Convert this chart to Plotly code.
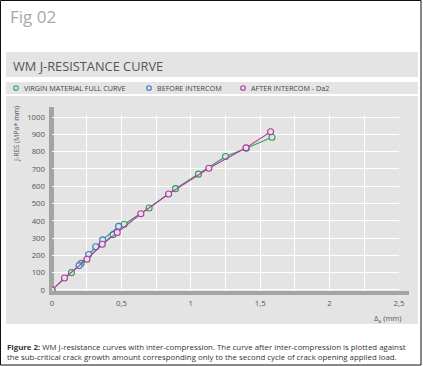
import plotly.graph_objects as go

# ---------------- data ----------------
virgin_x = [0.0, 0.14, 0.21, 0.44, 0.52, 0.70, 0.89, 1.055, 1.25, 1.40, 1.585]
virgin_y = [0, 100, 154, 320, 380, 474, 586, 670, 772, 820, 883]

before_x = [0.195, 0.264, 0.315, 0.365, 0.48]
before_y = [141, 205, 250, 290, 368]

after_x = [0.0, 0.09, 0.252, 0.362, 0.47, 0.64, 0.84, 1.13, 1.398, 1.575]
after_y = [0, 69, 178, 264, 332, 441, 555, 704, 822, 915]

x_ticks = [0, 0.5, 1, 1.5, 2, 2.5]
x_minor = [0.25, 0.75, 1.25, 1.75, 2.25]
y_ticks = [0, 100, 200, 300, 400, 500, 600, 700, 800, 900, 1000]

series_names = ["VIRGIN MATERIAL FULL CURVE", "BEFORE INTERCOM", "AFTER INTERCOM - Da2"]
colors = ["#2e9e5b", "#3a78c8", "#b0399f"]

# ---------------- layout helpers ----------------
W, H = 423, 366
ML, MR, MT, MB = 52, 24, 115, 75
PW, PH = W - ML - MR, H - MT - MB

def px(x):
    return (x - ML) / PW

def py(y):
    return (H - MB - y) / PH

FONT = "Open Sans, Noto Sans, sans-serif"
BAND = "#e4e4e4"
BAR = "#a4a4a4"

fig = go.Figure()
for xs, ys, c in [(virgin_x, virgin_y, colors[0]), (before_x, before_y, colors[1]), (after_x, after_y, colors[2])]:
    fig.add_trace(go.Scatter(
        x=xs, y=ys, mode="lines+markers",
        line=dict(color=c, width=1.1),
        marker=dict(symbol="circle", size=6, color=BAND, line=dict(color=c, width=1.1)),
        showlegend=False, hoverinfo="skip"))

shapes = []
def rect(x0, y0, x1, y1, fill=None):
    shapes.append(dict(type="rect", xref="paper", yref="paper",
                       x0=px(x0), x1=px(x1), y0=py(y1), y1=py(y0),
                       fillcolor=fill, line=dict(width=0), layer="below"))

rect(6, 52, 418, 77, BAND)
rect(6, 82, 418, 94, BAND)
rect(6, 96, 418, 324, BAND)
rect(49, 107, 54, 295, BAR)
rect(49, 291, 409, 295, BAR)
shapes.append(dict(type="rect", xref="paper", yref="paper",
                   x0=px(0.5), x1=px(421), y0=py(365), y1=py(0.5),
                   line=dict(color="#111111", width=1), fillcolor="rgba(0,0,0,0)", layer="above"))

# legend circles
for cx, c in zip([16, 149, 243], colors):
    shapes.append(dict(type="circle", xref="paper", yref="paper",
                       x0=px(cx - 2.3), x1=px(cx + 2.3), y0=py(88 + 2.3), y1=py(88 - 2.3),
                       line=dict(color=c, width=1.1), fillcolor="rgba(0,0,0,0)"))

ann = []
def text(x, y, s, size, color, xanchor="left", yanchor="middle", angle=0):
    ann.append(dict(x=px(x), y=py(y), xref="paper", yref="paper", text=s, showarrow=False,
                    xanchor=xanchor, yanchor=yanchor, textangle=angle, align="left",
                    font=dict(size=size, color=color, family=FONT)))

text(8, 17, "Fig 02", 17, "#a8a8a8")
text(11, 66, "WM J-RESISTANCE CURVE", 12.8, "#555555")
for tx, s in zip([22, 155, 249], series_names):
    text(tx, 88.5, s, 7.2, "#444444")
text(404, 319, "Δ<sub>a</sub> (mm)", 7.5, "#555555", xanchor="right")
text(16, 134, "J-RES (MPa* mm)", 7, "#555555", xanchor="center", angle=-90)
text(5, 351.5, "<b>Figure 2:</b> WM J-resistance curves with inter-compression. The curve after inter-compression is plotted against"
     "<br>the sub-critical crack growth amount corresponding only to the second cycle of crack opening applied load.",
     7.85, "#333333")

fig.update_layout(
    width=W, height=H,
    margin=dict(l=ML, r=MR, t=MT, b=MB),
    paper_bgcolor="white", plot_bgcolor="rgba(0,0,0,0)",
    separators=", ",
    shapes=shapes, annotations=ann,
    showlegend=False,
    font=dict(family=FONT, color="#555555"),
)
fig.update_xaxes(range=[0, 2.5], tickvals=x_ticks, tickformat=".1~f",
                 showgrid=True, gridcolor="white", gridwidth=1.3,
                 zeroline=False, showline=False, ticks="",
                 tickfont=dict(size=7.8, color="#555555"), ticklabelstandoff=6,
                 minor=dict(tickvals=x_minor, showgrid=True, gridcolor="white", gridwidth=1.3))
fig.update_yaxes(range=[-6, 1012], tickvals=y_ticks,
                 showgrid=True, gridcolor="white", gridwidth=1.3,
                 zeroline=False, showline=False, ticks="",
                 tickfont=dict(size=7.8, color="#555555"), ticklabelstandoff=6)

fig.write_html("out.html", config={"displayModeBar": False},
               post_script="document.body.style.margin='0';document.body.style.overflow='hidden';")
